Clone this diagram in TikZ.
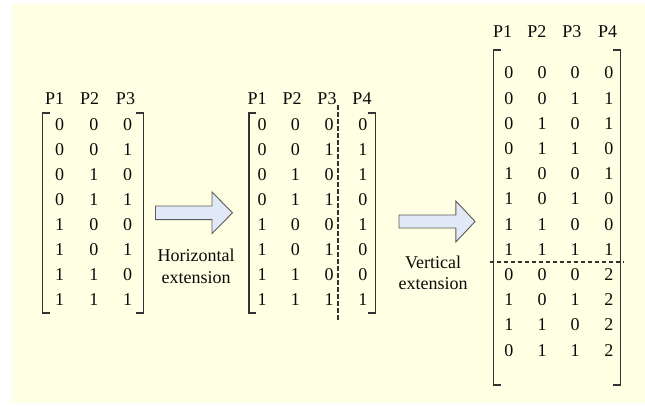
\documentclass[tikz,border=0pt]{standalone}
\usepackage{fontspec}
\setmainfont{Liberation Serif}
\definecolor{bgyellow}{HTML}{FFFFE3}
\definecolor{txt}{HTML}{0A0A0A}
\definecolor{brkgray}{HTML}{333333}
\definecolor{arrblue}{HTML}{E2E9F6}
\definecolor{arrgray}{HTML}{5A5A5A}
\begin{document}
\begin{tikzpicture}[x=1pt,y=-1pt,font=\fontsize{18}{21.5}\selectfont,
  num/.style={inner sep=0pt,text=txt},
  brk/.style={draw=brkgray,line width=1.3pt},
  blockarrow/.style={draw=arrgray,fill=arrblue,line width=0.9pt},
  extlabel/.style={align=center,inner sep=0pt,text=txt}]
\useasboundingbox (0,0) rectangle (645,405);
\fill[bgyellow] (12,4) rectangle (645,403);

% first matrix
\node[num] (ha1) at (54.7,99) {P1};
\node[num] (ha2) at (89.7,99) {P2};
\node[num] (ha3) at (125.5,99) {P3};
\foreach \r/\a/\b/\c in {1/0/0/0,2/0/0/1,3/0/1/0,4/0/1/1,5/1/0/0,6/1/0/1,7/1/1/0,8/1/1/1}{
  \node[num] (a\r-1) at (59.6,{100+25*\r}) {\a};
  \node[num] (a\r-2) at (93.8,{100+25*\r}) {\b};
  \node[num] (a\r-3) at (127.5,{100+25*\r}) {\c};
}
\draw[brk] (49.5,113) -- ++(-7.1,0) -- ++(0,200) -- ++(7.1,0);
\draw[brk] (136.1,113) -- ++(7.1,0) -- ++(0,200) -- ++(-7.1,0);

\draw[blockarrow] (155.5,206) -- ++(56.5,0) -- ++(0,-14) -- ++(20.5,20.8) -- ++(-20.5,20.8) -- ++(0,-14) -- ++(-56.5,0) -- cycle;
\node[extlabel] (hext) at (196.2,266.5) {Horizontal\\extension};

% second matrix
\node[num] (hb1) at (257.1,99) {P1};
\node[num] (hb2) at (292.1,99) {P2};
\node[num] (hb3) at (327,99) {P3};
\node[num] (hb4) at (362,99) {P4};
\foreach \r/\a/\b/\c/\d in {1/0/0/0/0,2/0/0/1/1,3/0/1/0/1,4/0/1/1/0,5/1/0/0/1,6/1/0/1/0,7/1/1/0/0,8/1/1/1/1}{
  \node[num] (b\r-1) at (262,{100+25*\r}) {\a};
  \node[num] (b\r-2) at (295.4,{100+25*\r}) {\b};
  \node[num] (b\r-3) at (329,{100+25*\r}) {\c};
  \node[num] (b\r-4) at (362.8,{100+25*\r}) {\d};
}
\draw[brk] (256,113) -- ++(-7.1,0) -- ++(0,200) -- ++(7.1,0);
\draw[brk] (368.1,113) -- ++(7.1,0) -- ++(0,200) -- ++(-7.1,0);
\draw[brkgray,line width=1.4pt,dash pattern=on 4.5pt off 2.5pt] (338.1,105) -- (338.1,322);

\draw[blockarrow] (399,215) -- ++(56.8,0) -- ++(0,-14) -- ++(19.3,20.5) -- ++(-19.3,20.5) -- ++(0,-14) -- ++(-56.8,0) -- cycle;
\node[extlabel] (vext) at (433.2,273) {Vertical\\extension};

% third matrix
\node[num] (hc1) at (502.7,32) {P1};
\node[num] (hc2) at (536.8,32) {P2};
\node[num] (hc3) at (571.8,32) {P3};
\node[num] (hc4) at (607.6,32) {P4};
\foreach \r/\a/\b/\c/\d in {1/0/0/0/0,2/0/0/1/1,3/0/1/0/1,4/0/1/1/0,5/1/0/0/1,6/1/0/1/0,7/1/1/0/0,8/1/1/1/1,9/0/0/0/2,10/1/0/1/2,11/1/1/0/2,12/0/1/1/2}{
  \node[num] (c\r-1) at (508.8,{73+25.2*(\r-1)}) {\a};
  \node[num] (c\r-2) at (542.2,{73+25.2*(\r-1)}) {\b};
  \node[num] (c\r-3) at (575.1,{73+25.2*(\r-1)}) {\c};
  \node[num] (c\r-4) at (608.8,{73+25.2*(\r-1)}) {\d};
}
\draw[brk] (500.7,50) -- ++(-7.1,0) -- ++(0,335) -- ++(7.1,0);
\draw[brk] (613.2,50) -- ++(7.1,0) -- ++(0,335) -- ++(-7.1,0);
\draw[brkgray,line width=1.5pt,dash pattern=on 4.5pt off 2.5pt] (489.5,262) -- (624.4,262);
\end{tikzpicture}
\end{document}
